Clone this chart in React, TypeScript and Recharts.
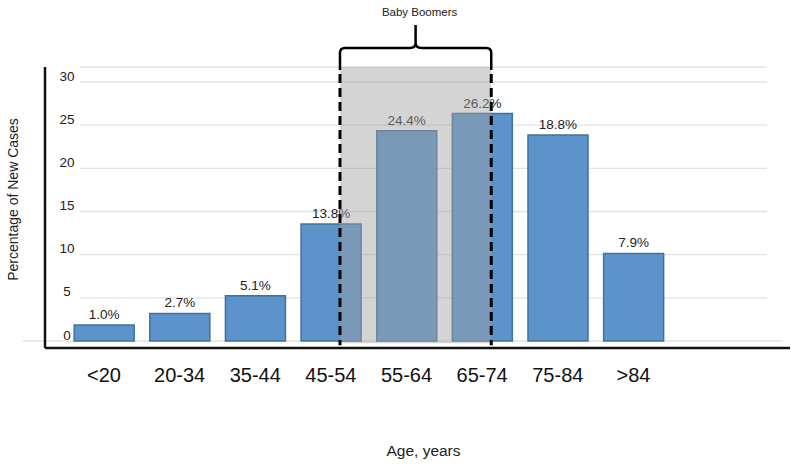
import React from "react";
import {
  BarChart,
  Bar,
  XAxis,
  YAxis,
  CartesianGrid,
  ReferenceArea,
  LabelList,
} from "recharts";

const categories = ["<20", "20-34", "35-44", "45-54", "55-64", "65-74", "75-84", ">84"];
// bar heights as drawn against the y axis
const barHeights = [1.85, 3.2, 5.25, 13.55, 24.35, 26.35, 23.85, 10.15];
// printed value labels
const pctLabels = ["1.0%", "2.7%", "5.1%", "13.8%", "24.4%", "26.2%", "18.8%", "7.9%"];
const yTicks = [0, 5, 10, 15, 20, 25, 30];

// baby boomer bracket, in category index units
const BOOMER_FROM = 3.12;
const BOOMER_TO = 5.12;

const X_DOMAIN: [number, number] = [-0.78, 9.07];
const Y_DOMAIN: [number, number] = [-0.81, 31.74];

const FONT = "'Liberation Sans', Arial, Helvetica, sans-serif";
const BAR_FILL = "#5b93ca";
const BAR_EDGE = "#41719c";

const data = categories.map((name, i) => ({
  idx: i,
  name,
  value: barHeights[i],
  label: pctLabels[i],
}));

const YTick = ({ x, y, payload }: any) => (
  <text
    x={x + 22}
    y={y - 6}
    textAnchor="middle"
    dominantBaseline="central"
    fontSize={13.5}
    fontFamily={FONT}
    fill="#222"
  >
    {payload.value}
  </text>
);

const GridLine = (p: any) => (
  <line
    x1={p.index === 0 ? p.x1 - 22 : p.x1 + 35}
    x2={p.index === 0 ? p.x2 - 7 : p.x2 - 23}
    y1={p.y1}
    y2={p.y2}
    stroke="#e2e2e2"
    strokeWidth={1.3}
  />
);

const YLabel = ({ viewBox }: any) => {
  const cx = viewBox.x + 8;
  const cy = viewBox.y + viewBox.height / 2 - 8;
  return (
    <text
      x={cx}
      y={cy}
      transform={`rotate(-90, ${cx}, ${cy})`}
      textAnchor="middle"
      dominantBaseline="central"
      fontSize={14}
      fontFamily={FONT}
      fill="#222"
    >
      Percentage of New Cases
    </text>
  );
};

// shaded band + dashed edges + curly bracket with caption
const BoomerShape = (props: any) => {
  const { x, y, width, height } = props;
  const xl = x;
  const xr = x + width;
  const mid = x + width / 2;
  const bar = y - 19;
  const peak = y - 42;
  const r = 5;
  const bracket =
    `M ${xl} ${y + 3} L ${xl} ${bar + r} Q ${xl} ${bar} ${xl + r} ${bar} L ${mid - 6} ${bar} Q ${mid} ${bar} ${mid} ${bar - 5} L ${mid} ${peak} ` +
    `M ${xr} ${y + 3} L ${xr} ${bar + r} Q ${xr} ${bar} ${xr - r} ${bar} L ${mid + 6} ${bar} Q ${mid} ${bar} ${mid} ${bar - 5}`;
  return (
    <g>
      <rect x={xl} y={y} width={width} height={height} fill="#a0a0a0" fillOpacity={0.45} />
      <line x1={xl} x2={xl} y1={y + 7} y2={y + height + 2} stroke="#000" strokeWidth={3} strokeDasharray="9 5" />
      <line x1={xr} x2={xr} y1={y + 7} y2={y + height + 2} stroke="#000" strokeWidth={3} strokeDasharray="9 5" />
      <path d={bracket} fill="none" stroke="#000" strokeWidth={2.5} />
      <text x={mid + 4} y={peak - 9} textAnchor="middle" fontSize={11.5} fontFamily={FONT} fill="#222">
        Baby Boomers
      </text>
    </g>
  );
};

export default function App() {
  return (
    <div style={{ position: "absolute", left: 0, top: 0, width: 800, height: 467, background: "#fff" }}>
      <BarChart
        width={800}
        height={467}
        data={data}
        margin={{ top: 67, right: 10, left: 5, bottom: 0 }}
        style={{ fontFamily: FONT }}
      >
        <CartesianGrid vertical={false} horizontal={GridLine} />
        <XAxis
          type="number"
          dataKey="idx"
          domain={X_DOMAIN}
          ticks={[0, 1, 2, 3, 4, 5, 6, 7]}
          interval={0}
          tickFormatter={(v: number) => categories[v] ?? ""}
          tickLine={false}
          tickSize={0}
          tickMargin={20}
          height={119}
          axisLine={{ stroke: "#111", strokeWidth: 2.5 }}
          tick={{ fontSize: 20, fill: "#111", fontFamily: FONT }}
          label={{
            value: "Age, years",
            position: "insideBottom",
            offset: 11,
            dx: 6,
            fontSize: 15.5,
            fill: "#222",
            fontFamily: FONT,
          }}
        />
        <YAxis
          type="number"
          domain={Y_DOMAIN}
          ticks={yTicks}
          interval={0}
          width={40}
          tickLine={false}
          tickSize={0}
          tickMargin={0}
          tick={<YTick />}
          axisLine={{ stroke: "#111", strokeWidth: 2.5 }}
          label={<YLabel />}
        />
        <Bar
          dataKey="value"
          fill={BAR_FILL}
          stroke={BAR_EDGE}
          strokeWidth={1.5}
          barSize={60}
          isAnimationActive={false}
        >
          <LabelList
            dataKey="label"
            position="top"
            offset={6}
            fontSize={13.5}
            fill="#222"
            fontFamily={FONT}
          />
        </Bar>
        <ReferenceArea
          x1={BOOMER_FROM}
          x2={BOOMER_TO}
          y1={-0.25}
          y2={Y_DOMAIN[1]}
          shape={<BoomerShape />}
          zIndex={2100}
          ifOverflow="visible"
        />
      </BarChart>
    </div>
  );
}
